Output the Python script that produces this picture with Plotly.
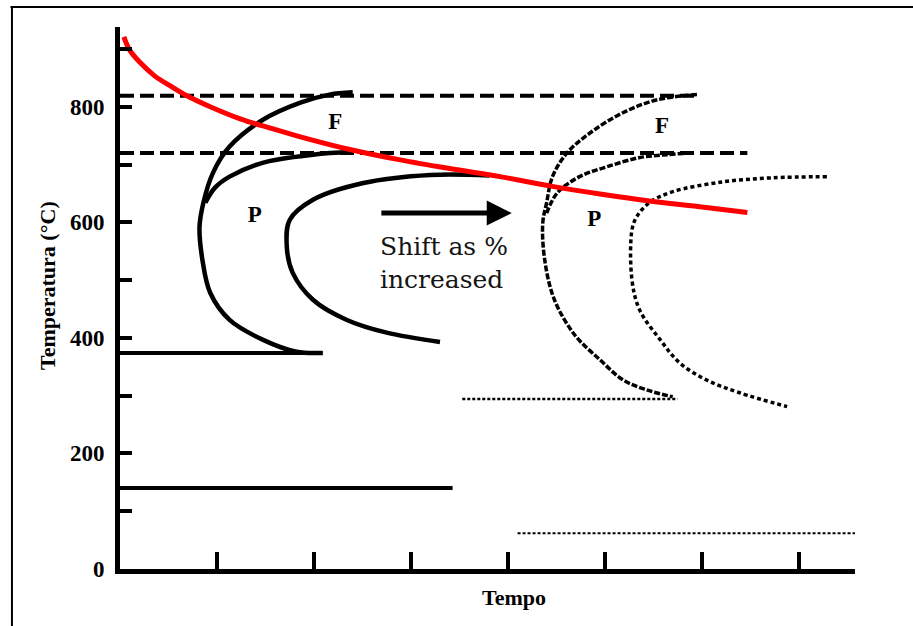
import plotly.graph_objects as go

# Cooling curve (red), time in arbitrary units, temperature in °C
cool_t = [0.04, 0.10, 0.21, 0.36, 0.52, 0.69, 0.93, 1.24, 1.55, 1.86, 2.37, 2.89, 3.40, 3.92, 4.43, 4.95, 5.46, 5.98, 6.47]
cool_T = [921, 898, 876, 853, 836, 819, 800, 779, 763, 748, 726, 708, 693, 679, 663, 649, 637, 627, 617]

# Reference temperatures (dashed) and their time extents
ae3_T = 819
ae3_t = [0.0, 5.95]
ae1_T = 720
ae1_t = [0.0, 6.47]

# Martensite start / finish (original alloy, solid)
ms_T = 374
ms_t = [0.0, 2.09]
mf_T = 140
mf_t = [0.0, 3.43]

# Martensite start / finish (shifted alloy, dotted)
ms2_T = 294
ms2_t = [3.53, 5.75]
mf2_T = 62
mf2_t = [4.10, 7.58]

# Original alloy: ferrite start, ferrite finish / pearlite start, pearlite finish
fs_t = [2.40, 2.16, 1.86, 1.47, 1.13, 0.96, 0.86, 0.82, 0.85, 0.93, 1.13, 1.47, 1.82, 2.09]
fs_T = [825, 821, 807, 777, 731, 686, 634, 592, 535, 478, 431, 397, 376, 374]
ff_t = [0.88, 0.98, 1.13, 1.47, 1.99, 2.40]
ff_T = [634, 660, 679, 703, 717, 722]
pf_t = [3.81, 3.20, 2.51, 1.99, 1.75, 1.72, 1.78, 1.99, 2.34, 2.75, 3.30]
pf_T = [681, 682, 668, 639, 604, 558, 513, 466, 431, 409, 393]

# Shifted alloy curves
fs2_t = [5.95, 5.54, 5.19, 4.85, 4.61, 4.46, 4.40, 4.36, 4.38, 4.48, 4.69, 4.95, 5.19, 5.43, 5.70]
fs2_T = [821, 812, 790, 755, 720, 679, 634, 599, 535, 466, 405, 362, 327, 310, 298]
ff2_t = [4.40, 4.51, 4.74, 5.02, 5.36, 5.64, 5.88]
ff2_T = [616, 651, 679, 696, 712, 717, 720]
pf2_t = [7.29, 6.73, 6.22, 5.70, 5.46, 5.33, 5.28, 5.28, 5.36, 5.57, 5.77, 6.05, 6.39, 6.88]
pf2_T = [679, 677, 670, 653, 634, 610, 587, 500, 448, 397, 357, 327, 305, 281]

# Region labels
region_text = ["F", "P", "F", "P"]
region_t = [2.22, 1.39, 5.59, 4.89]
region_T = [772, 610, 764, 603]

# Shift arrow
arrow_t = [2.68, 4.04]
arrow_T = 616

y_tick_vals = [0, 200, 400, 600, 800]
y_tick_text = ["0", "200", "400", "600", "800"]
x_tick_vals = [1, 2, 3, 4, 5, 6, 7]

fig = go.Figure()


def add_line(t, T, width=4.5, dash="solid", color="black", shape="spline"):
    fig.add_trace(go.Scatter(
        x=t, y=T, mode="lines",
        line=dict(color=color, width=width, dash=dash, shape=shape, smoothing=1.0),
        hoverinfo="skip", showlegend=False,
    ))


# horizontal reference lines
add_line(ae3_t, [ae3_T] * 2, width=4, dash="14px,6px", shape="linear")
add_line(ae1_t, [ae1_T] * 2, width=4, dash="14px,6px", shape="linear")
add_line(ms_t, [ms_T] * 2, width=4, shape="linear")
add_line(mf_t, [mf_T] * 2, width=4, shape="linear")
add_line(ms2_t, [ms2_T] * 2, width=2.5, dash="3px,2px", shape="linear")
add_line(mf2_t, [mf2_T] * 2, width=2, dash="3px,2px", shape="linear")

# original transformation curves
add_line(fs_t, fs_T)
add_line(ff_t, ff_T)
add_line(pf_t, pf_T)

# shifted transformation curves
add_line(fs2_t, fs2_T, width=3.5, dash="6px,2px")
add_line(ff2_t, ff2_T, width=3.5, dash="6px,2px")
add_line(pf2_t, pf2_T, width=3.5, dash="4px,3px")

# cooling curve
add_line(cool_t, cool_T, width=5, color="#ff0000")

# F / P region labels
fig.add_trace(go.Scatter(
    x=region_t, y=region_T, mode="text", text=region_text,
    textfont=dict(family="Liberation Serif", size=23, color="black", weight="bold"),
    hoverinfo="skip", showlegend=False,
))

annotations = [
    dict(x=arrow_t[1], y=arrow_T, ax=arrow_t[0], ay=arrow_T,
         xref="x", yref="y", axref="x", ayref="y",
         showarrow=True, arrowhead=2, arrowsize=1, arrowwidth=5,
         arrowcolor="black", text=""),
    dict(x=2.66, y=586, xref="x", yref="y", xanchor="left", yanchor="top",
         align="left", showarrow=False, text="Shift as %<br>increased",
         font=dict(family="DejaVu Serif", size=25, color="#141414")),
    dict(x=-0.098, y=0.524, xref="paper", yref="paper", textangle=-90,
         xanchor="center", yanchor="middle",
         showarrow=False, text="<b>Temperatura (°C)</b>",
         font=dict(family="Liberation Serif", size=22, color="black")),
    dict(x=0.536, y=-0.052, xref="paper", yref="paper", yanchor="middle",
         showarrow=False, text="<b>Tempo</b>",
         font=dict(family="Liberation Serif", size=22, color="black")),
]

shapes = [
    # frame around the figure
    dict(type="line", xref="paper", yref="paper", x0=-0.149, x1=1.08, y0=1.037, y1=1.037,
         line=dict(color="black", width=2)),
    dict(type="line", xref="paper", yref="paper", x0=-0.147, x1=-0.147, y0=1.037, y1=-0.11,
         line=dict(color="black", width=2)),
]

fig.update_layout(
    width=913, height=626,
    margin=dict(l=120, r=58, t=27, b=57),
    paper_bgcolor="white", plot_bgcolor="white",
    annotations=annotations, shapes=shapes,
    showlegend=False,
)

fig.update_xaxes(
    range=[0, 7.58], showgrid=False, zeroline=False,
    showline=True, linecolor="black", linewidth=5,
    tickmode="array", tickvals=x_tick_vals, showticklabels=False,
    ticks="inside", ticklen=17, tickwidth=4, tickcolor="black",
)
fig.update_yaxes(
    range=[0, 938], showgrid=False, zeroline=False,
    showline=True, linecolor="black", linewidth=5,
    tickmode="array", tickvals=y_tick_vals, ticktext=y_tick_text,
    ticks="inside", ticklen=12, tickwidth=4, tickcolor="black",
    ticklabelstandoff=6,
    tickfont=dict(family="Liberation Serif", size=23, color="black", weight="bold"),
    minor=dict(tickmode="linear", tick0=100, dtick=200, ticks="inside",
               ticklen=12, tickwidth=4, tickcolor="black"),
)

fig.write_html("out.html")
